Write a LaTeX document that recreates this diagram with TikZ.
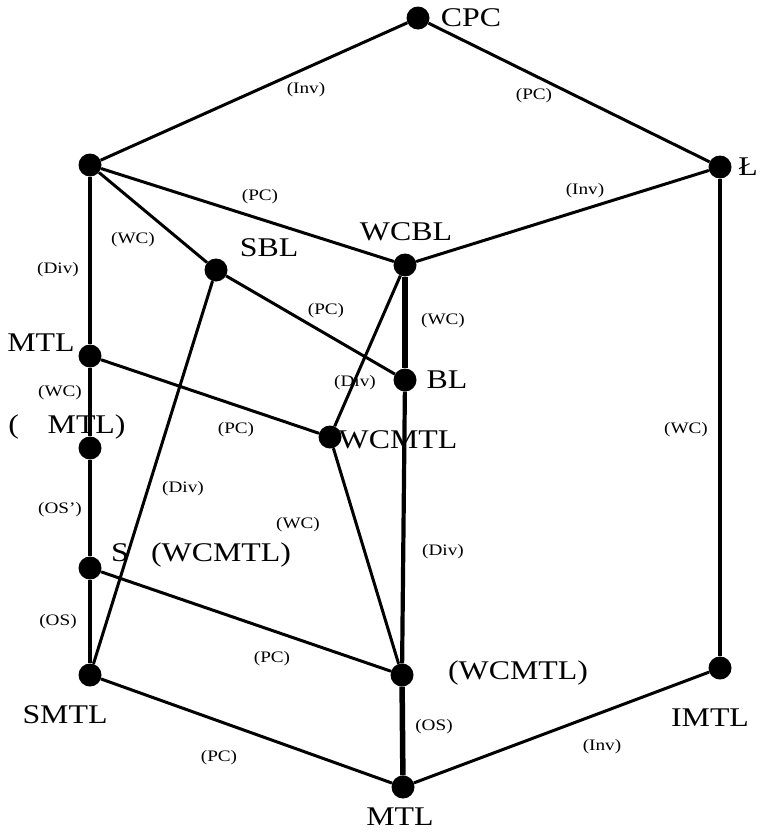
\documentclass[tikz,border=0pt]{standalone}
\usepackage{fontspec}
\setmainfont{Liberation Serif}
\usepackage{graphicx}
\newcommand{\bigtxt}[1]{\scalebox{1.18}[1]{\fontsize{27}{27}\selectfont #1}}
\newcommand{\smalltxt}[1]{\scalebox{1.2}[1]{\fontsize{16}{16}\selectfont #1}}
\begin{document}
\begin{tikzpicture}[x=1pt,y=-1pt,
  dot/.style={circle,fill=black,inner sep=0pt,minimum size=23pt},
  vname/.style={inner sep=0pt},
  elabel/.style={inner sep=0pt},
  edge/.style={line width=3pt},
  heavy/.style={line width=4.2pt},
  heavier/.style={line width=5.5pt}]
\useasboundingbox (0,0) rectangle (760,833);

% vertices of the lattice
\node[dot] (cpc)   at (418,18)  {};
\node[dot] (luk)   at (720,167) {};
\node[dot] (top)   at (90,165)  {};
\node[dot] (wcbl)  at (405,265) {};
\node[dot] (sbl)   at (216,270) {};
\node[dot] (mtlu)  at (90,356)  {};
\node[dot] (bl)    at (405,380) {};
\node[dot] (pmtl)  at (90,448)  {};
\node[dot] (wcmtl) at (330,437) {};
\node[dot] (swc)   at (90,568)  {};
\node[dot] (smtl)  at (90,675)  {};
\node[dot] (bwc)   at (402,675) {};
\node[dot] (imtl)  at (720,668) {};
\node[dot] (mtl)   at (403,787) {};

% edges
\draw[edge] (cpc) -- (top);
\draw[edge] (cpc) -- (luk);
\draw[edge] (top) -- (wcbl);
\draw[edge] (luk) -- (wcbl);
\draw[edge] (top) -- (sbl);
\draw[heavy] (top) -- (mtlu);
\draw[edge] (sbl) -- (bl);
\draw[edge] (sbl) -- (smtl);
\draw[heavier] (wcbl) -- (bl);
\draw[edge] (wcbl) -- (wcmtl);
\draw[edge] (mtlu) -- (wcmtl);
\draw[heavy] (mtlu) -- (pmtl);
\draw[heavy] (bl) -- (bwc);
\draw[edge] (wcmtl) -- (bwc);
\draw[heavy] (pmtl) -- (swc);
\draw[edge] (swc) -- (bwc);
\draw[heavy] (swc) -- (smtl);
\draw[edge] (smtl) -- (mtl);
\draw[heavier] (bwc) -- (mtl);
\draw[heavy] (luk) -- (imtl);
\draw[edge] (imtl) -- (mtl);

% vertex names
\node[vname] (tcpc)   at (471,18)  {\bigtxt{CPC}};
\node[vname] (tluk)   at (748,167) {\bigtxt{Ł}};
\node[vname] (twcbl)  at (406,232) {\bigtxt{WCBL}};
\node[vname] (tsbl)   at (269,248) {\bigtxt{SBL}};
\node[vname] (tmtlu)  at (41,343)  {\bigtxt{MTL}};
\node[vname] (tbl)    at (447,380) {\bigtxt{BL}};
\node[vname] (tpmtl)  at (67,427)  {\bigtxt{(\hspace{0.9em}MTL)}};
\node[vname] (twcmtl) at (398,440) {\bigtxt{WCMTL}};
\node[vname] (tswc)   at (201,555) {\bigtxt{S\hspace{0.7em}(WCMTL)}};
\node[vname] (tbwc)   at (518,673) {\bigtxt{(WCMTL)}};
\node[vname] (timtl)  at (710,718) {\bigtxt{IMTL}};
\node[vname] (tsmtl)  at (65,715)  {\bigtxt{SMTL}};
\node[vname] (tmtl)   at (400,817) {\bigtxt{MTL}};

% edge labels
\node[elabel] (l1)  at (306,90)  {\smalltxt{(Inv)}};
\node[elabel] (l2)  at (534,96)  {\smalltxt{(PC)}};
\node[elabel] (l3)  at (260,197) {\smalltxt{(PC)}};
\node[elabel] (l4)  at (585,191) {\smalltxt{(Inv)}};
\node[elabel] (l5)  at (133,240) {\smalltxt{(WC)}};
\node[elabel] (l6)  at (58,270)  {\smalltxt{(Div)}};
\node[elabel] (l7)  at (326,311) {\smalltxt{(PC)}};
\node[elabel] (l8)  at (443,321) {\smalltxt{(WC)}};
\node[elabel] (l9)  at (60,393)  {\smalltxt{(WC)}};
\node[elabel] (l10) at (355,383) {\smalltxt{(Div)}};
\node[elabel] (l11) at (236,430) {\smalltxt{(PC)}};
\node[elabel] (l12) at (686,430) {\smalltxt{(WC)}};
\node[elabel] (l13) at (60,510)  {\smalltxt{(OS{\char"27})}};
\node[elabel] (l14) at (183,489) {\smalltxt{(Div)}};
\node[elabel] (l15) at (298,525) {\smalltxt{(WC)}};
\node[elabel] (l16) at (443,552) {\smalltxt{(Div)}};
\node[elabel] (l17) at (58,622)  {\smalltxt{(OS)}};
\node[elabel] (l18) at (272,659) {\smalltxt{(PC)}};
\node[elabel] (l19) at (434,727) {\smalltxt{(OS)}};
\node[elabel] (l20) at (602,747) {\smalltxt{(Inv)}};
\node[elabel] (l21) at (219,758) {\smalltxt{(PC)}};
\end{tikzpicture}
\end{document}
